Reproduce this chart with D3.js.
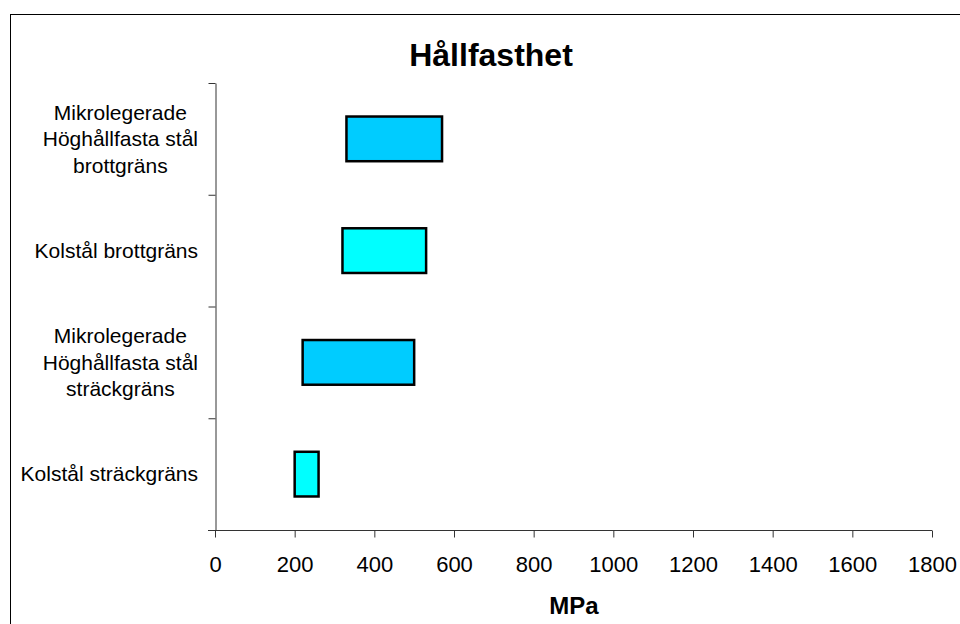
<!DOCTYPE html>
<html>
<head>
<meta charset="utf-8">
<script src="https://cdn.jsdelivr.net/npm/d3@7"></script>
<style>
  html, body { margin: 0; padding: 0; background: #fff; }
  svg { display: block; font-family: "Liberation Sans", Arial, sans-serif; }
</style>
</head>
<body>
<svg id="chart" width="960" height="624"></svg>
<script>
// Strength ranges (MPa) per steel grade, listed bottom to top
const categories = [
  ["Kolstål sträckgräns"],
  ["Mikrolegerade", "Höghållfasta stål", "sträckgräns"],
  ["Kolstål brottgräns"],
  ["Mikrolegerade", "Höghållfasta stål", "brottgräns"]
];
const lowValues  = [200, 220, 320, 330];
const highValues = [260, 500, 530, 570];
const barColors  = ["#00FFFF", "#00CCFF", "#00FFFF", "#00CCFF"];
const xTicks = [0, 200, 400, 600, 800, 1000, 1200, 1400, 1600, 1800];
const titleText = "Hållfasthet";
const xTitle = "MPa";

const svg = d3.select("#chart");

// outer frame
svg.append("rect")
  .attr("x", 10.5).attr("y", 14.5)
  .attr("width", 1000).attr("height", 700)
  .attr("fill", "none").attr("stroke", "#000").attr("stroke-width", 1);

const plot = { left: 215, right: 932, top: 83, bottom: 530 };

const x = d3.scaleLinear().domain([0, 1800]).range([plot.left, plot.right]);
const idx = d3.range(categories.length);
const y = d3.scaleBand()
  .domain(idx)
  .range([plot.bottom, plot.top])
  .paddingInner(0.6)
  .paddingOuter(0.3);

// bars spanning low..high
svg.append("g").selectAll("rect")
  .data(idx)
  .join("rect")
  .attr("x", i => x(lowValues[i]))
  .attr("y", i => y(i))
  .attr("width", i => x(highValues[i]) - x(lowValues[i]))
  .attr("height", y.bandwidth())
  .attr("fill", i => barColors[i])
  .attr("stroke", "#000")
  .attr("stroke-width", 2.5);

// x axis
const xAxis = svg.append("g")
  .attr("transform", `translate(0,${plot.bottom + 0.5})`)
  .call(d3.axisBottom(x).tickValues(xTicks).tickFormat(d3.format("d")).tickSize(7).tickSizeOuter(0).tickPadding(19));
xAxis.select(".domain").attr("stroke", "#333").attr("d", `M${plot.left - 7},0H${plot.right}`);
xAxis.selectAll(".tick line").attr("stroke", "#333");
xAxis.selectAll("text").attr("font-size", 22).attr("fill", "#000");

// y axis with ticks on category boundaries
const yEdges = d3.scaleLinear().domain([0, categories.length]).range([plot.bottom, plot.top]);
const yAxis = svg.append("g")
  .attr("transform", `translate(${plot.left + 0.5},0)`)
  .call(d3.axisLeft(yEdges).tickValues(d3.range(categories.length + 1)).tickFormat("").tickSize(7).tickSizeOuter(0));
yAxis.select(".domain").attr("stroke", "#333");
yAxis.selectAll(".tick line").attr("stroke", "#333");

// category labels: centred lines, block right-aligned to the axis
const lineH = 26.7;
const labelRight = 198;
idx.forEach(i => {
  const lines = categories[i];
  const cy = y(i) + y.bandwidth() / 2;
  const t = svg.append("text")
    .attr("font-size", 21)
    .attr("text-anchor", "middle")
    .attr("fill", "#000");
  lines.forEach((ln, k) => {
    t.append("tspan")
      .attr("x", 0)
      .attr("y", cy + (k - (lines.length - 1) / 2) * lineH)
      .attr("dy", "0.35em")
      .text(ln);
  });
  let w = 0;
  t.selectAll("tspan").each(function () { w = Math.max(w, this.getComputedTextLength()); });
  t.selectAll("tspan").attr("x", labelRight - w / 2);
});

// titles
svg.append("text")
  .attr("x", 491).attr("y", 66)
  .attr("text-anchor", "middle")
  .attr("font-size", 32).attr("font-weight", "bold")
  .text(titleText);

svg.append("text")
  .attr("x", 574).attr("y", 614)
  .attr("text-anchor", "middle")
  .attr("font-size", 24).attr("font-weight", "bold")
  .text(xTitle);
</script>
</body>
</html>
